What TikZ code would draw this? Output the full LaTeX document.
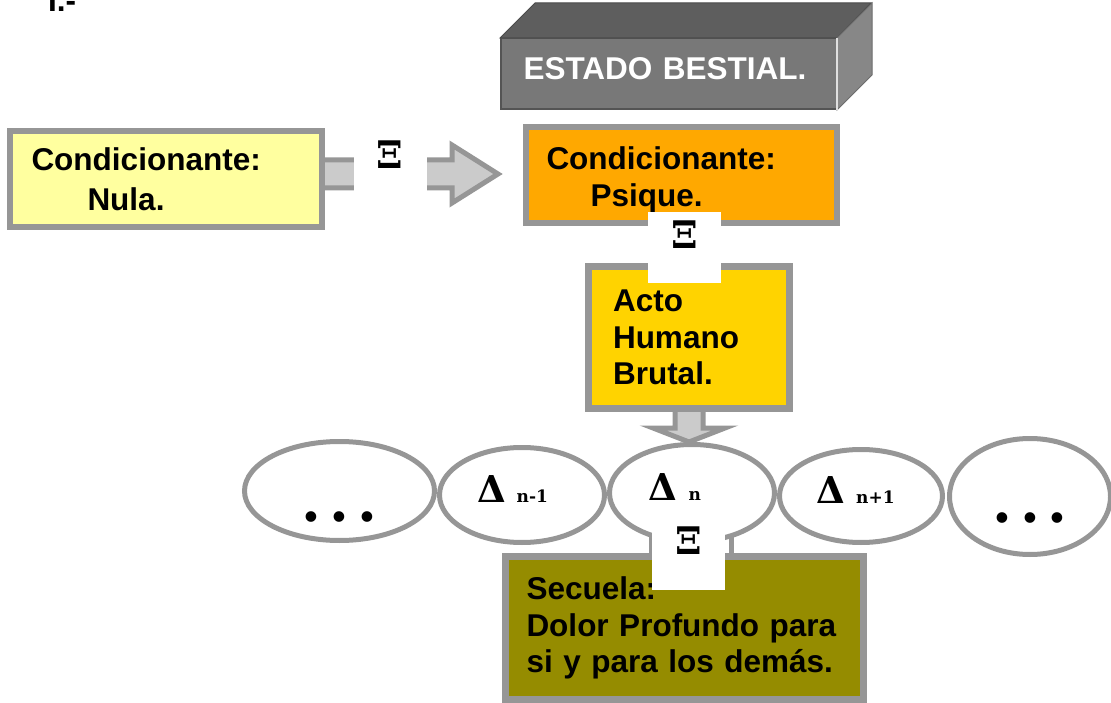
\documentclass[tikz,border=0pt]{standalone}
\usepackage{fontspec}
\setmainfont{Liberation Sans}
\newfontfamily\dejaserif{DejaVu Serif}
\usepackage{tikz}
\usetikzlibrary{shapes.geometric}

\definecolor{nulafill}{HTML}{FFFF9F}
\definecolor{psiquefill}{HTML}{FFA800}
\definecolor{actofill}{HTML}{FFD300}
\definecolor{secuelafill}{HTML}{958C00}
\definecolor{rimgray}{HTML}{969696}
\definecolor{shaftgray}{HTML}{CBCBCB}
\definecolor{frontgray}{HTML}{787878}
\definecolor{topgray}{HTML}{5E5E5E}
\definecolor{sidegray}{HTML}{878787}

\newcommand{\boxfont}{\fontsize{31.5}{36.5}\selectfont\bfseries}
\newcommand{\xifont}{\dejaserif\bfseries\fontsize{38}{38}\selectfont}
\newcommand{\dotsfont}{\dejaserif\bfseries\fontsize{57}{57}\selectfont}
\newcommand{\dlab}[2]{{\dejaserif\bfseries\fontsize{37}{37}\selectfont Δ}\hspace{11pt}%
  {\dejaserif\bfseries\fontsize{17}{17}\selectfont #1}\kern#2pt}
\newcommand{\tresp}{.\hspace{8pt}.\hspace{8pt}.}

\begin{document}
\begin{tikzpicture}[x=1pt, y=-1pt,
  textbox/.style={draw=rimgray, line width=6pt, font=\boxfont, align=left, inner ysep=0pt},
  front/.style={fill=frontgray, draw=frontgray!70!black, line width=1.5pt, text=white,
    font=\boxfont, align=left, minimum width=335.5pt, minimum height=70.5pt,
    text width=290pt, inner xsep=22.5pt, text depth=10pt},
  oval/.style={ellipse, draw=rimgray, line width=5pt, inner sep=0pt},
  blockarrow/.style={draw=rimgray, fill=shaftgray, line width=5pt},
  xilabel/.style={fill=white, inner xsep=0pt, inner ysep=9pt, minimum width=73pt,
    text height=27.7pt, text depth=26pt, font=\xifont}]
  \useasboundingbox (0,0) rectangle (1111,703);

  \node[anchor=base west, inner sep=0pt, font=\boxfont] (num) at (48,12) {I.-};

  % caja en relieve
  \node[front] (bestial) at (668.5,74) {ESTADO BESTIAL.};
  \draw[fill=topgray, draw=topgray!80!black, line width=1pt]
    (bestial.north west) -- ++(35,-35) -- ++(336,0) -- (bestial.north east) -- cycle;
  \draw[fill=sidegray, draw=sidegray!80!black, line width=1pt]
    (bestial.north east) -- ++(35,-35) -- ++(0,72) -- (bestial.south east) -- cycle;
  \draw[white!75!gray, line width=2pt] (bestial.north east) -- (bestial.south east);

  \node[textbox, fill=nulafill, text width=269pt, inner xsep=21.5pt, minimum height=96pt]
    (nula) at (166,179) {Condicionante:\\[3.5pt]\hspace*{56pt}Nula.};
  \node[textbox, fill=psiquefill, text width=270pt, inner xsep=20.5pt, minimum height=96pt]
    (psique) at (681.5,175) {\rule{0pt}{32.6pt}Condicionante:\\\hspace*{44pt}Psique.};
  \node[textbox, fill=actofill, line width=7pt, text width=152pt, inner xsep=24.5pt,
    minimum height=142pt] (acto) at (689,337.5) {Acto\\Humano\\Brutal.};

  \node[oval, minimum width=190pt, minimum height=99pt, font=\dotsfont, text height=60pt,
    text depth=0pt] (dotsl) at (339.5,491) {\tresp};
  \node[oval, minimum width=165pt, minimum height=95pt, text depth=12pt]
    (dnm) at (522,495) {\dlab{n-1}{19}};
  \node[oval, minimum width=165pt, minimum height=97pt, text depth=12pt]
    (dn) at (692,493) {\dlab{n}{34}};
  \node[oval, minimum width=163pt, minimum height=93pt, text depth=12pt]
    (dnp) at (861,496) {\dlab{n+1}{11}};
  \node[oval, minimum width=161pt, minimum height=116pt, font=\dotsfont, text height=51pt,
    text depth=0pt] (dotsr) at (1030,496.5) {\tresp};

  \node[textbox, fill=secuelafill, line width=7pt, text width=316pt, inner xsep=21pt,
    minimum height=143pt] (secuela) at (684.5,628)
    {Secuela:\\Dolor Profundo para\\si y para los demás.};

  \draw[blockarrow] (nula.east) ++(0,-19) -- ++(127,0) -- ++(0,-15) -- ++(46,29)
    -- ++(-46,29) -- ++(0,-15) -- ++(-127,0);
  \draw[blockarrow] (acto.south) ++(-14,0) -- ++(0,16) -- ++(-22,0) -- ++(36,14)
    -- ++(36,-14) -- ++(-22,0) -- ++(0,-16);
  \draw[draw=rimgray, line width=5pt] (dn.south) ++(-41,-8) -- ++(0,22) ++(80,-22) -- ++(0,22);

  \path (nula) -- node[xilabel, pos=0.33, yshift=10pt] {Ξ} (psique);
  \path (psique) -- node[xilabel, yshift=-3pt] {Ξ} (acto);
  \path (dn) -- node[xilabel, yshift=-5.5pt] {Ξ} (secuela);
\end{tikzpicture}
\end{document}
